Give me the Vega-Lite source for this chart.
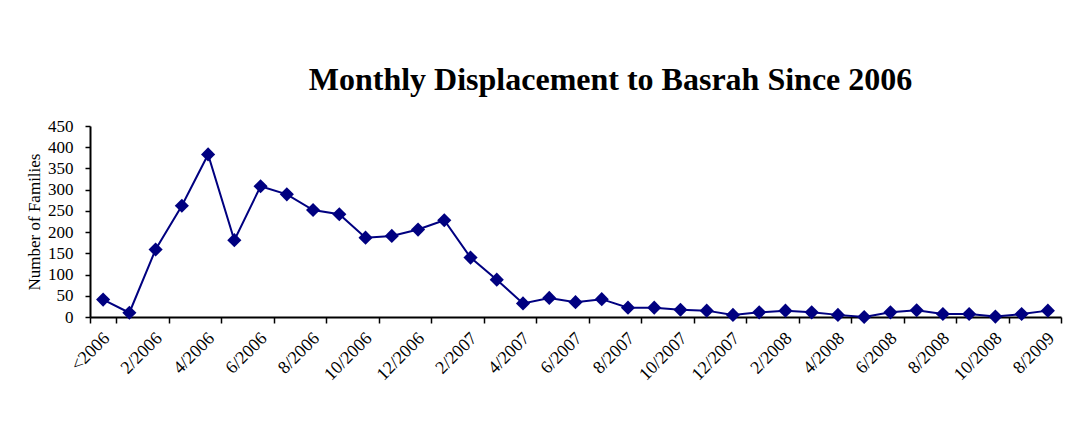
{
  "$schema": "https://vega.github.io/schema/vega-lite/v6.json",
  "autosize": "none",
  "width": 971,
  "height": 191,
  "padding": {"left": 90, "top": 126, "right": 14, "bottom": 128},
  "background": "white",
  "title": {
    "text": "Monthly Displacement to Basrah Since 2006",
    "font": "Liberation Serif",
    "fontSize": 32,
    "fontWeight": "bold",
    "color": "black",
    "anchor": "middle",
    "dx": 35,
    "offset": 20
  },
  "config": {
    "view": {"stroke": null},
    "axis": {
      "labelFont": "Liberation Serif",
      "titleFont": "Liberation Serif",
      "labelColor": "black",
      "titleColor": "black",
      "domainColor": "black",
      "tickColor": "black",
      "domainWidth": 2,
      "tickWidth": 1.5,
      "grid": false
    }
  },
  "data": {
    "values": [
      {"month": "<2006", "families": 41},
      {"month": "1/2006", "families": 10},
      {"month": "2/2006", "families": 159},
      {"month": "3/2006", "families": 262},
      {"month": "4/2006", "families": 383},
      {"month": "5/2006", "families": 181},
      {"month": "6/2006", "families": 308},
      {"month": "7/2006", "families": 289},
      {"month": "8/2006", "families": 252},
      {"month": "9/2006", "families": 242},
      {"month": "10/2006", "families": 187},
      {"month": "11/2006", "families": 191},
      {"month": "12/2006", "families": 206},
      {"month": "1/2007", "families": 228},
      {"month": "2/2007", "families": 140},
      {"month": "3/2007", "families": 88},
      {"month": "4/2007", "families": 32},
      {"month": "5/2007", "families": 45},
      {"month": "6/2007", "families": 35},
      {"month": "7/2007", "families": 42},
      {"month": "8/2007", "families": 22},
      {"month": "9/2007", "families": 22},
      {"month": "10/2007", "families": 17},
      {"month": "11/2007", "families": 15},
      {"month": "12/2007", "families": 5},
      {"month": "1/2008", "families": 11},
      {"month": "2/2008", "families": 15},
      {"month": "3/2008", "families": 11},
      {"month": "4/2008", "families": 5},
      {"month": "5/2008", "families": 0},
      {"month": "6/2008", "families": 11},
      {"month": "7/2008", "families": 16},
      {"month": "8/2008", "families": 7},
      {"month": "9/2008", "families": 7},
      {"month": "10/2008", "families": 1},
      {"month": "11/2008", "families": 7},
      {"month": "8/2009", "families": 15}
    ]
  },
  "encoding": {
    "x": {
      "field": "month",
      "type": "ordinal",
      "sort": null,
      "scale": {"type": "band", "paddingInner": 0, "paddingOuter": 0},
      "axis": {
        "title": null,
        "tickBand": "extent",
        "values": ["<2006", "2/2006", "4/2006", "6/2006", "8/2006", "10/2006", "12/2006", "2/2007", "4/2007", "6/2007", "8/2007", "10/2007", "12/2007", "2/2008", "4/2008", "6/2008", "8/2008", "10/2008", "8/2009"],
        "labelAngle": -45,
        "labelFontSize": 18,
        "labelOverlap": false,
        "tickSize": 6,
        "labelPadding": 6,
        "labelOffset": -3
      }
    },
    "y": {
      "field": "families",
      "type": "quantitative",
      "scale": {"domain": [0, 450], "nice": false},
      "axis": {
        "title": "Number of Families",
        "titleFontSize": 17,
        "titleFontWeight": "normal",
        "titlePadding": 4,
        "values": [0, 50, 100, 150, 200, 250, 300, 350, 400, 450],
        "labelFontSize": 17,
        "tickSize": 5,
        "labelPadding": 12
      }
    }
  },
  "layer": [
    {
      "mark": {"type": "line", "color": "#000080", "strokeWidth": 2}
    },
    {
      "mark": {"type": "point", "shape": "diamond", "filled": true, "color": "#000080", "size": 200, "opacity": 1}
    }
  ]
}
